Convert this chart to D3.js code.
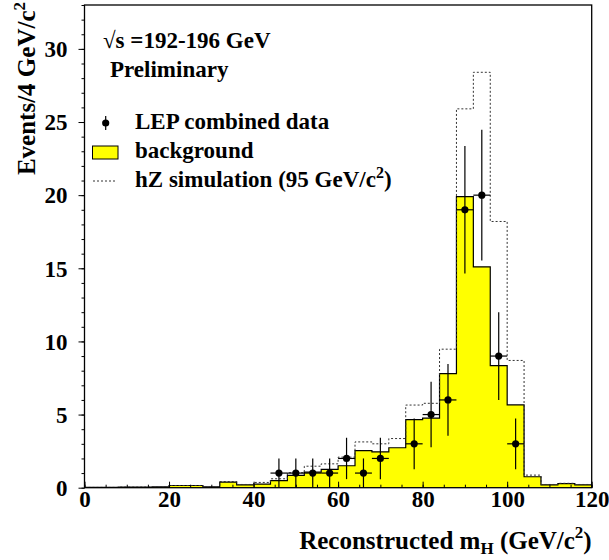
<!DOCTYPE html>
<html>
<head>
<meta charset="utf-8">
<script src="https://cdn.jsdelivr.net/npm/d3@7"></script>
<style>
  body { margin: 0; background: #fff; }
  svg text { font-family: "Liberation Serif", "Times New Roman", serif; font-weight: bold; }
</style>
</head>
<body>
<div id="chart"></div>
<script>
// bin edges 0..120 GeV, 4 GeV per bin
const binLow = d3.range(0, 120, 4);
const background = [0.02, 0.02, 0.04, 0.04, 0.05, 0.15, 0.15, 0.05, 0.38, 0.2,
                    0.25, 0.48, 0.84, 1.06, 1.25, 1.5, 2.54, 2.45, 2.73, 4.65,
                    4.75, 7.8, 19.9, 15.1, 8.35, 5.66, 0.75, 0.2, 0.28, 0.2];
const hzSim = [0.02, 0.02, 0.04, 0.04, 0.05, 0.15, 0.15, 0.05, 0.42, 0.22,
               0.36, 0.61, 1.02, 1.47, 1.63, 2.09, 3.13, 3.0, 3.36, 5.65,
               5.77, 9.47, 25.9, 28.4, 18.2, 8.7, 0.86, 0.22, 0.3, 0.22];
const dataX = [46, 50, 54, 58, 62, 66, 70, 78, 82, 86, 90, 94, 98, 102];
const dataN = [1, 1, 1, 1, 2, 1, 2, 3, 5, 6, 19, 20, 9, 3];
const xTicks = [0, 20, 40, 60, 80, 100, 120];
const yTicks = [0, 5, 10, 15, 20, 25, 30];

const W = 609, H = 560;
const frameL = 84.5, frameR = 591.7, frameT = 5, frameB = 487.7;
const labelSize = "23px";
const dotR = 3.6;

const svg = d3.select("#chart").append("svg")
              .attr("width", W)
              .attr("height", H);

const x = d3.scaleLinear().domain([0, 120]).range([frameL, frameR]);
const y = d3.scaleLinear().domain([0, 33]).range([frameB, frameT]);

// step points incl. closing edge
function steps(vals) {
  const pts = binLow.map((b, i) => [b, vals[i]]);
  pts.push([120, vals[vals.length - 1]]);
  return pts;
}

const area = d3.area()
               .x(d => x(d[0]))
               .y0(y(0))
               .y1(d => y(d[1]))
               .curve(d3.curveStepAfter);
const line = d3.line()
               .x(d => x(d[0]))
               .y(d => y(d[1]))
               .curve(d3.curveStepAfter);

// background histogram
svg.append("path")
   .attr("d", area(steps(background)))
   .attr("fill", "#ffff00");
svg.append("path")
   .attr("d", line(steps(background)))
   .attr("fill", "none")
   .attr("stroke", "#000")
   .attr("stroke-width", 1.2);

// hZ simulation (dashed)
svg.append("path")
   .attr("d", line(steps(hzSim)))
   .attr("fill", "none")
   .attr("stroke", "#333")
   .attr("stroke-width", 1)
   .attr("stroke-dasharray", "2,2");

// data points with errors
const pts = svg.append("g");
dataX.forEach((c, i) => {
  const n = dataN[i], e = Math.sqrt(n);
  pts.append("line")
     .attr("x1", x(c)).attr("x2", x(c))
     .attr("y1", y(n + e)).attr("y2", y(Math.max(0, n - e)))
     .attr("stroke", "#000").attr("stroke-width", 1.2);
  pts.append("line")
     .attr("x1", x(c - 2)).attr("x2", x(c + 2))
     .attr("y1", y(n)).attr("y2", y(n))
     .attr("stroke", "#000").attr("stroke-width", 1.2);
  pts.append("circle")
     .attr("cx", x(c)).attr("cy", y(n)).attr("r", dotR)
     .attr("fill", "#000");
});

// frame
svg.append("rect")
   .attr("x", frameL).attr("y", frameT)
   .attr("width", frameR - frameL).attr("height", frameB - frameT)
   .attr("fill", "none").attr("stroke", "#000").attr("stroke-width", 1.3);

// y axis: ticks outward
const yMinor = d3.range(0, 34, 1);
svg.append("g")
   .attr("transform", `translate(${frameL},0)`)
   .call(d3.axisLeft(y).tickValues(yMinor).tickSize(3).tickFormat(""))
   .call(g => g.select(".domain").remove());
svg.append("g")
   .attr("transform", `translate(${frameL},0)`)
   .call(d3.axisLeft(y).tickValues(yTicks).tickSize(6).tickPadding(11).tickFormat(d3.format("d")))
   .call(g => g.select(".domain").remove())
   .call(g => g.selectAll("text").style("font-size", labelSize).attr("dy", "0.34em")
                .style("font-family", "Liberation Serif").style("font-weight", "bold"));

// x axis: ticks inward
const xMinor = d3.range(0, 121, 5);
svg.append("g")
   .attr("transform", `translate(0,${frameB})`)
   .call(d3.axisBottom(x).tickValues(xMinor).tickSize(-3).tickFormat(""))
   .call(g => g.select(".domain").remove());
svg.append("g")
   .attr("transform", `translate(0,${frameB})`)
   .call(d3.axisBottom(x).tickValues(xTicks).tickSize(-6).tickPadding(3).tickFormat(d3.format("d")))
   .call(g => g.select(".domain").remove())
   .call(g => g.selectAll("text").style("font-size", labelSize)
                .style("font-family", "Liberation Serif").style("font-weight", "bold"));

// axis titles
const xt = svg.append("text")
              .attr("x", frameR).attr("y", 549)
              .attr("text-anchor", "end")
              .style("font-size", "25px");
xt.append("tspan").text("Reconstructed m");
xt.append("tspan").attr("dy", 5).style("font-size", "17px").text("H");
xt.append("tspan").attr("dy", -5).text(" (GeV/c");
xt.append("tspan").attr("dy", -11).style("font-size", "17px").text("2");
xt.append("tspan").attr("dy", 11).text(")");

const yt = svg.append("text")
              .attr("transform", "translate(35,2) rotate(-90)")
              .attr("text-anchor", "end")
              .style("font-size", "25px");
yt.append("tspan").text("Events/4 GeV/c");
yt.append("tspan").attr("dy", -10).style("font-size", "17px").text("2");

// header text
svg.append("text").attr("x", 103).attr("y", 48).style("font-size", labelSize)
   .text("\u221As =192-196 GeV");
svg.append("text").attr("x", 110).attr("y", 77).style("font-size", labelSize)
   .text("Preliminary");

// legend
const lg = svg.append("g");
lg.append("line").attr("x1", 105.7).attr("x2", 105.7).attr("y1", 116).attr("y2", 130)
  .attr("stroke", "#000").attr("stroke-width", 1.2);
lg.append("circle").attr("cx", 105.7).attr("cy", 123).attr("r", dotR).attr("fill", "#000");
lg.append("text").attr("x", 135).attr("y", 129).style("font-size", labelSize)
  .text("LEP combined data");

lg.append("rect").attr("x", 92.5).attr("y", 146).attr("width", 25.5).attr("height", 13)
  .attr("fill", "#ffff00").attr("stroke", "#000").attr("stroke-width", 1);
lg.append("text").attr("x", 135).attr("y", 158).style("font-size", labelSize)
  .text("background");

lg.append("line").attr("x1", 93).attr("x2", 115).attr("y1", 181).attr("y2", 181)
  .attr("stroke", "#333").attr("stroke-width", 1).attr("stroke-dasharray", "2,2");
const ht = lg.append("text").attr("x", 135).attr("y", 187).style("font-size", labelSize);
ht.append("tspan").text("hZ simulation (95 GeV/c");
ht.append("tspan").attr("dy", -9).style("font-size", "16px").text("2");
ht.append("tspan").attr("dy", 9).text(")");
</script>
</body>
</html>
